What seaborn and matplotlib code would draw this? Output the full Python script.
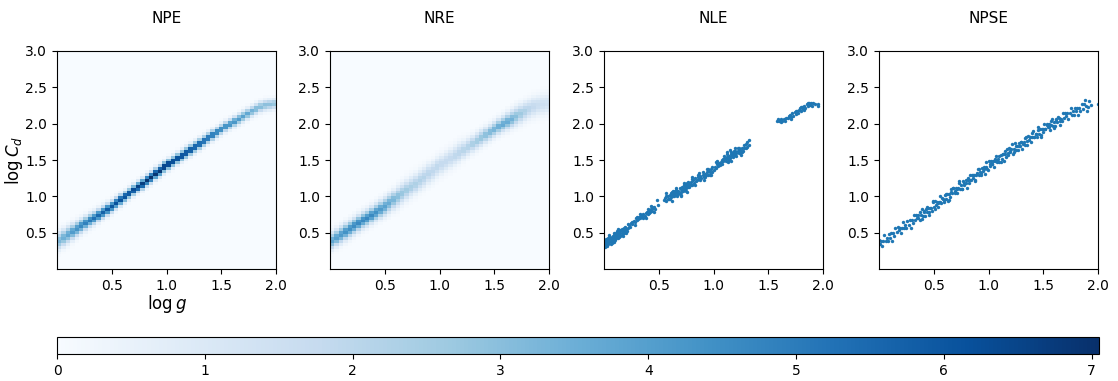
import numpy as np
import matplotlib
matplotlib.use("Agg")
import matplotlib.pyplot as plt
import seaborn as sns
from matplotlib.cm import ScalarMappable
from matplotlib.colors import Normalize

# ---------------- data ----------------
titles = ["NPE", "NRE", "NLE", "NPSE"]
x_ticks = [0.5, 1.0, 1.5, 2.0]
y_ticks = [0.5, 1.0, 1.5, 2.0, 2.5, 3.0]
cbar_ticks = [0, 1, 2, 3, 4, 5, 6, 7]
cbar_max = 7.05

# density grid: 50 columns over log g in [0, 2], 75 rows over log Cd in [0, 3]
grid_x_edges = np.linspace(0, 2, 51)
grid_y_edges = np.linspace(0, 3, 76)

# ridge centre (log Cd) per column
ridge_center = [0.39, 0.43, 0.47, 0.51, 0.55, 0.59, 0.63, 0.67, 0.70, 0.74,
                0.78, 0.82, 0.86, 0.905, 0.95, 0.995, 1.04, 1.085, 1.13, 1.17,
                1.22, 1.26, 1.31, 1.35, 1.40, 1.44, 1.48, 1.52, 1.56, 1.60,
                1.64, 1.68, 1.72, 1.76, 1.80, 1.84, 1.88, 1.92, 1.96, 1.995,
                2.03, 2.065, 2.10, 2.135, 2.17, 2.20, 2.23, 2.25, 2.26, 2.27]

npe_peak = [3.2, 3.5, 3.8, 4.1, 4.4, 4.7, 4.9, 5.1, 5.3, 5.5,
            5.7, 5.9, 6.0, 6.2, 6.3, 6.4, 6.5, 6.6, 6.7, 6.8,
            6.9, 7.0, 7.0, 7.0, 7.0, 6.9, 6.8, 6.7, 6.6, 6.5,
            6.3, 6.1, 5.9, 5.7, 5.5, 5.3, 5.1, 4.9, 4.7, 4.5,
            4.3, 4.1, 3.9, 3.7, 3.5, 3.3, 3.1, 3.0, 2.9, 2.8]
npe_width = [0.075, 0.072, 0.070, 0.067, 0.065, 0.062, 0.060, 0.058, 0.056, 0.054,
             0.052, 0.050, 0.049, 0.048, 0.047, 0.046, 0.046, 0.046, 0.046, 0.046,
             0.046, 0.046, 0.046, 0.046, 0.046, 0.046, 0.046, 0.046, 0.046, 0.046,
             0.045, 0.045, 0.045, 0.045, 0.045, 0.045, 0.045, 0.045, 0.045, 0.045,
             0.045, 0.045, 0.045, 0.045, 0.045, 0.046, 0.046, 0.046, 0.046, 0.046]

nre_peak = [3.8, 4.0, 4.2, 4.4, 4.5, 4.6, 4.7, 4.7, 4.7, 4.6,
            4.4, 4.1, 3.9, 3.6, 3.3, 3.0, 2.8, 2.6, 2.4, 2.3,
            2.2, 2.1, 2.0, 1.9, 1.9, 1.8, 1.8, 1.8, 1.9, 2.0,
            2.1, 2.2, 2.4, 2.6, 2.8, 3.0, 3.2, 3.4, 3.6, 3.7,
            3.6, 3.4, 3.0, 2.6, 2.3, 2.0, 1.8, 1.6, 1.5, 1.4]
nre_width = [0.070, 0.070, 0.070, 0.070, 0.070, 0.070, 0.070, 0.070, 0.070, 0.070,
             0.072, 0.074, 0.076, 0.078, 0.080, 0.085, 0.085, 0.085, 0.085, 0.085,
             0.085, 0.085, 0.085, 0.085, 0.085, 0.085, 0.085, 0.085, 0.085, 0.085,
             0.075, 0.072, 0.070, 0.070, 0.070, 0.068, 0.068, 0.068, 0.068, 0.068,
             0.072, 0.075, 0.078, 0.080, 0.080, 0.082, 0.085, 0.085, 0.085, 0.085]

nle_points = [
    (0.00,0.32),(0.01,0.35),(0.01,0.30),(0.02,0.38),(0.02,0.33),(0.03,0.36),(0.03,0.40),(0.04,0.34),
    (0.04,0.38),(0.05,0.41),(0.05,0.37),(0.06,0.39),(0.06,0.43),(0.07,0.40),(0.07,0.36),(0.08,0.42),
    (0.08,0.45),(0.09,0.41),(0.09,0.47),(0.10,0.44),(0.10,0.48),(0.11,0.46),(0.11,0.42),(0.12,0.49),
    (0.12,0.45),(0.13,0.47),(0.13,0.51),(0.14,0.48),(0.14,0.53),(0.15,0.50),(0.15,0.46),(0.16,0.52),
    (0.16,0.55),(0.17,0.49),(0.17,0.54),(0.18,0.51),(0.18,0.56),(0.19,0.53),(0.20,0.50),(0.20,0.55),
    (0.02,0.41),(0.03,0.31),(0.05,0.44),(0.06,0.35),(0.08,0.38),(0.10,0.40),(0.12,0.52),(0.14,0.44),
    (0.09,0.50),(0.11,0.49),(0.13,0.43),(0.16,0.47),(0.04,0.42),(0.07,0.44),(0.01,0.39),(0.00,0.36),
    (0.19,0.58),(0.18,0.49),(0.15,0.54),(0.21,0.52),
    (0.22,0.56),(0.23,0.60),(0.24,0.58),(0.25,0.63),(0.26,0.62),(0.27,0.66),(0.28,0.64),(0.29,0.70),
    (0.30,0.67),(0.31,0.69),(0.32,0.72),(0.33,0.70),(0.34,0.74),(0.35,0.71),(0.36,0.76),(0.37,0.73),
    (0.38,0.77),(0.39,0.79),(0.40,0.76),(0.41,0.81),(0.42,0.78),(0.43,0.82),(0.44,0.80),(0.45,0.84),
    (0.46,0.86),(0.47,0.83),(0.48,0.95),(0.44,0.85),(0.41,0.77),(0.36,0.70),(0.30,0.72),(0.26,0.65),
    (0.35,0.75),(0.40,0.82),(0.49,0.88),
    (0.55,0.95),(0.56,0.98),(0.57,0.94),(0.58,1.00),(0.59,0.97),(0.60,1.02),(0.61,0.99),(0.62,1.03),
    (0.63,1.01),(0.64,1.05),(0.65,1.02),(0.66,1.06),(0.67,1.04),(0.68,1.08),(0.69,1.05),(0.70,1.10),
    (0.71,1.07),(0.72,1.12),(0.73,1.09),(0.74,1.14),(0.75,1.11),(0.76,1.15),(0.77,1.13),(0.78,1.17),
    (0.79,1.20),(0.80,1.16),(0.81,1.22),(0.82,1.19),(0.60,0.96),(0.62,1.06),(0.64,1.00),(0.66,1.09),
    (0.68,1.03),(0.70,1.06),(0.72,1.08),(0.74,1.10),(0.76,1.18),(0.78,1.13),(0.65,1.07),(0.69,1.11),
    (0.71,1.13),(0.73,1.15),(0.75,1.08),(0.77,1.20),(0.58,0.96),(0.63,1.07),(0.67,1.01),(0.80,1.24),
    (0.83,1.25),(0.84,1.21),(0.70,1.02),(0.57,1.01),(0.61,1.04),(0.79,1.15),(0.74,1.17),
    (0.85,1.23),(0.86,1.27),(0.87,1.24),(0.88,1.28),(0.89,1.25),(0.90,1.30),(0.91,1.26),(0.92,1.31),
    (0.93,1.29),(0.94,1.33),(0.95,1.30),(0.96,1.35),(0.97,1.33),(0.98,1.37),(0.99,1.40),(1.00,1.36),
    (1.01,1.41),(1.02,1.39),(1.03,1.44),(1.04,1.42),(1.05,1.46),(0.88,1.22),(0.92,1.27),(0.95,1.37),
    (0.99,1.34),(1.03,1.48),(0.90,1.33),(0.97,1.30),(1.06,1.43),(0.86,1.30),
    (1.07,1.47),(1.08,1.50),(1.09,1.48),(1.10,1.52),(1.11,1.49),(1.12,1.54),(1.13,1.51),(1.14,1.56),
    (1.15,1.53),(1.16,1.58),(1.17,1.55),(1.18,1.60),(1.19,1.57),(1.20,1.62),(1.21,1.59),(1.22,1.63),
    (1.23,1.60),(1.24,1.64),(1.25,1.62),(1.26,1.66),(1.27,1.63),(1.12,1.58),(1.14,1.50),(1.16,1.61),
    (1.18,1.54),(1.20,1.57),(1.22,1.66),(1.15,1.64),(1.17,1.59),(1.19,1.63),(1.21,1.55),(1.13,1.47),
    (1.10,1.56),(1.24,1.59),(1.11,1.53),(1.23,1.66),(1.09,1.52),(1.26,1.61),(1.30,1.72),(1.31,1.75),
    (1.31,1.68),(1.32,1.70),(1.30,1.66),(1.32,1.77),(1.28,1.67),
    (1.58,2.04),(1.59,2.06),(1.60,2.03),(1.61,2.05),(1.62,2.07),(1.62,2.02),(1.63,2.04),(1.64,2.06),
    (1.65,2.03),(1.68,2.08),(1.69,2.10),(1.70,2.12),(1.71,2.09),(1.72,2.14),(1.73,2.11),(1.74,2.16),
    (1.75,2.13),(1.76,2.18),(1.77,2.15),(1.78,2.19),(1.79,2.21),(1.80,2.18),(1.81,2.23),(1.82,2.20),
    (1.83,2.25),(1.84,2.22),(1.85,2.27),(1.86,2.24),(1.87,2.29),(1.88,2.26),(1.89,2.28),(1.90,2.25),
    (1.91,2.28),(1.93,2.27),(1.95,2.24),(1.95,2.27),(1.86,2.29),(1.80,2.23),(1.71,2.06),
    (0.05,0.47),(0.09,0.37),(0.13,0.55),(0.17,0.45),(0.22,0.62),(0.28,0.60),(0.33,0.76),(0.38,0.70),
    (0.43,0.87),(0.46,0.78),(0.57,1.04),(0.62,0.94),(0.66,1.12),(0.70,1.00),(0.73,1.19),(0.76,1.06),
    (0.80,1.27),(0.83,1.16),(0.87,1.32),(0.91,1.22),(0.94,1.38),(0.98,1.29),(1.02,1.47),(1.08,1.45),
    (1.12,1.61),(1.16,1.49),(1.20,1.66),(1.25,1.57),(1.28,1.71),(1.75,2.18),(1.83,2.19),(1.66,2.08),
]

npse_points = [
    (0.00,0.40),(0.01,0.35),(0.02,0.39),(0.03,0.32),(0.04,0.39),(0.05,0.47),(0.06,0.38),(0.07,0.43),
    (0.08,0.38),(0.09,0.48),(0.10,0.43),(0.11,0.49),(0.12,0.39),(0.13,0.49),(0.14,0.45),(0.15,0.56),
    (0.16,0.51),(0.17,0.58),(0.18,0.53),(0.19,0.57),(0.20,0.50),(0.21,0.57),(0.22,0.65),(0.23,0.56),
    (0.24,0.61),(0.25,0.56),(0.26,0.66),(0.27,0.61),(0.28,0.67),(0.29,0.57),(0.30,0.67),(0.31,0.63),
    (0.32,0.74),(0.33,0.68),(0.34,0.75),(0.35,0.70),(0.36,0.74),(0.37,0.67),(0.38,0.74),(0.39,0.82),
    (0.40,0.73),(0.41,0.78),(0.42,0.73),(0.43,0.83),(0.44,0.78),(0.45,0.84),(0.46,0.74),(0.47,0.84),
    (0.48,0.80),(0.49,0.92),(0.50,0.86),(0.51,0.93),(0.52,0.88),(0.53,0.92),(0.54,0.85),(0.55,0.92),
    (0.56,1.00),(0.57,0.91),(0.58,0.96),(0.59,0.92),(0.60,1.02),(0.61,0.97),(0.62,1.03),(0.63,0.93),
    (0.64,1.03),(0.65,0.99),(0.66,1.10),(0.67,1.04),(0.68,1.12),(0.69,1.07),(0.70,1.11),(0.71,1.04),
    (0.72,1.11),(0.73,1.19),(0.74,1.10),(0.75,1.15),(0.76,1.10),(0.77,1.21),(0.78,1.16),(0.79,1.22),
    (0.80,1.12),(0.81,1.22),(0.82,1.18),(0.83,1.29),(0.84,1.23),(0.85,1.30),(0.86,1.25),(0.87,1.30),
    (0.88,1.23),(0.89,1.30),(0.90,1.38),(0.91,1.29),(0.92,1.34),(0.93,1.29),(0.94,1.39),(0.95,1.35),
    (0.96,1.41),(0.97,1.31),(0.98,1.41),(0.99,1.37),(1.00,1.48),(1.01,1.42),(1.02,1.49),(1.03,1.44),
    (1.04,1.48),(1.05,1.41),(1.06,1.48),(1.07,1.56),(1.08,1.47),(1.09,1.52),(1.10,1.47),(1.11,1.57),
    (1.12,1.52),(1.13,1.58),(1.14,1.48),(1.15,1.58),(1.16,1.54),(1.17,1.65),(1.18,1.59),(1.19,1.66),
    (1.20,1.61),(1.21,1.65),(1.22,1.58),(1.23,1.65),(1.24,1.73),(1.25,1.64),(1.26,1.69),(1.27,1.64),
    (1.28,1.74),(1.29,1.69),(1.30,1.75),(1.31,1.65),(1.32,1.75),(1.33,1.71),(1.34,1.82),(1.35,1.76),
    (1.36,1.83),(1.37,1.78),(1.38,1.82),(1.39,1.75),(1.40,1.82),(1.41,1.90),(1.42,1.81),(1.43,1.86),
    (1.44,1.81),(1.45,1.91),(1.46,1.86),(1.47,1.92),(1.48,1.82),(1.49,1.92),(1.50,1.88),(1.51,1.99),
    (1.52,1.93),(1.53,2.00),(1.54,1.95),(1.55,1.99),(1.56,1.91),(1.57,1.98),(1.58,2.06),(1.59,1.97),
    (1.60,2.02),(1.61,1.97),(1.62,2.07),(1.63,2.02),(1.64,2.08),(1.65,1.98),(1.66,2.07),(1.67,2.03),
    (1.68,2.14),(1.69,2.08),(1.70,2.15),(1.71,2.10),(1.72,2.14),(1.73,2.07),(1.74,2.14),(1.75,2.22),
    (1.76,2.12),(1.77,2.17),(1.78,2.12),(1.79,2.22),(1.80,2.17),(1.81,2.22),(1.82,2.12),(1.83,2.21),
    (1.84,2.17),(1.85,2.27),(1.86,2.20),(1.87,2.27),(1.88,2.33),(1.89,2.25),(1.90,2.17),(1.91,2.23),
    (1.92,2.31),(1.94,2.26),(2.00,2.27),
    (0.355,0.70),(0.375,0.78),(0.395,0.69),(0.415,0.80),(0.435,0.85),(0.455,0.79),(0.475,0.84),
    (0.495,0.94),(0.515,0.83),(0.535,0.91),(0.555,0.92),(0.575,0.98),(0.595,0.95),(0.615,1.03),
    (0.635,0.95),(0.655,1.06),(0.675,1.11),(0.695,1.05),(0.715,1.10),(0.735,1.21),(0.755,1.10),
    (0.775,1.18),(0.795,1.18),(0.815,1.25),(0.835,1.22),(0.855,1.30),(0.875,1.21),(0.895,1.32),
    (0.915,1.38),(0.935,1.32),(0.955,1.37),(0.975,1.47),(0.995,1.36),(1.015,1.45),(1.035,1.45),
    (1.055,1.51),(1.075,1.48),(1.095,1.56),(1.115,1.47),(1.135,1.58),(1.155,1.63),(1.175,1.57),
    (1.195,1.62),(1.215,1.72),(1.235,1.61),(1.255,1.69),(1.275,1.69),(1.295,1.75),(1.315,1.72),
    (1.335,1.80),(1.355,1.71),(1.375,1.82),(1.395,1.87),(1.415,1.81),(1.435,1.86),(1.455,1.96),
    (1.475,1.85),(1.495,1.93),(1.515,1.92),(1.535,1.98),(1.555,1.95),(1.575,2.03),(1.595,1.94),
    (1.615,2.04),(1.635,2.09),(1.655,2.03),
]

# ---------------- figure ----------------
W, H = 1118, 381
fig = plt.figure(figsize=(W / 100, H / 100), dpi=100)

ax_lefts = [57, 330, 604, 879]
ax_w, ax_top, ax_bot = 219, 51, 269
axes = [fig.add_axes([l / W, (H - ax_bot) / H, ax_w / W, (ax_bot - ax_top) / H]) for l in ax_lefts]

cmap = "Blues"
norm = Normalize(vmin=0, vmax=cbar_max)
point_color = "#1f77b4"


def density_image(center, peak, width):
    yc = 0.5 * (grid_y_edges[:-1] + grid_y_edges[1:])
    c = np.asarray(center)[None, :]
    p = np.asarray(peak)[None, :]
    w = np.asarray(width)[None, :]
    return p * np.exp(-0.5 * ((yc[:, None] - c) / w) ** 2)


for ax, peak, width in [(axes[0], npe_peak, npe_width), (axes[1], nre_peak, nre_width)]:
    img = density_image(ridge_center, peak, width)
    ax.imshow(img, origin="lower", extent=[0, 2, 0, 3], aspect="auto",
              cmap=cmap, norm=norm, interpolation="nearest")

for ax, pts in [(axes[2], nle_points), (axes[3], npse_points)]:
    px, py = zip(*pts)
    sns.scatterplot(x=list(px), y=list(py), ax=ax, s=6, color=point_color,
                    linewidth=0, edgecolor=None)

for ax, t in zip(axes, titles):
    ax.set_xlim(0, 2)
    ax.set_ylim(0, 3)
    ax.set_xticks(x_ticks)
    ax.set_yticks(y_ticks)
    ax.tick_params(labelsize=10)
    ax.set_title(t, fontsize=11, pad=20)

axes[0].set_ylabel(r"$\log C_d$", fontsize=12)
axes[0].yaxis.set_label_coords(-0.145, 0.5)
axes[0].set_xlabel(r"$\log g$", fontsize=12, labelpad=0)

cax = fig.add_axes([57 / W, (H - 354) / H, (1099 - 57) / W, 17 / H])
sm = ScalarMappable(norm=norm, cmap=cmap)
cb = fig.colorbar(sm, cax=cax, orientation="horizontal", ticks=cbar_ticks)
cb.ax.tick_params(labelsize=10)

fig.savefig("out.png", dpi=100)
